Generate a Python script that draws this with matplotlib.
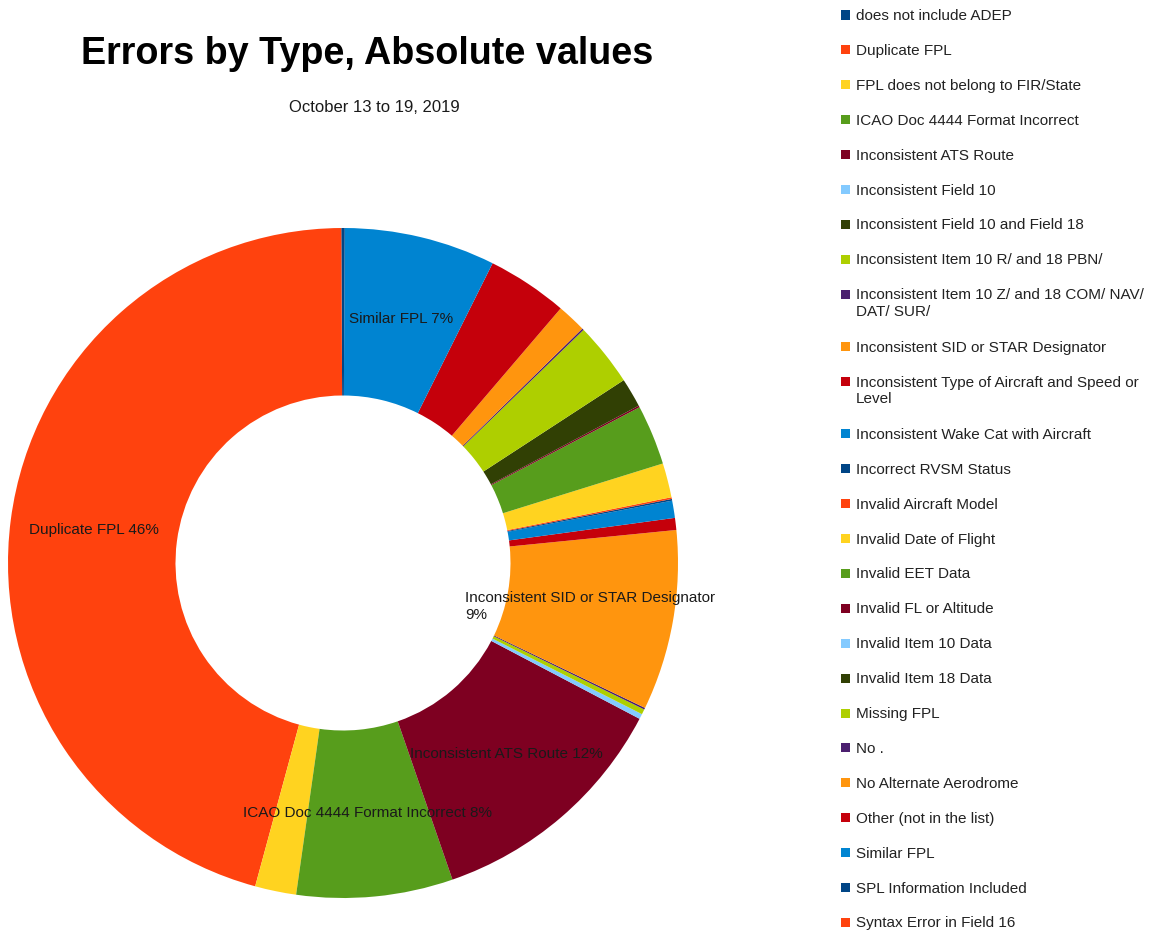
import textwrap

import matplotlib
matplotlib.use("Agg")
import matplotlib.pyplot as plt
import numpy as np
from matplotlib.patches import Rectangle

plt.rcParams["font.family"] = ["Liberation Sans", "DejaVu Sans"]

# Error categories and their weekly counts
categories = [
    "does not include ADEP",
    "Duplicate FPL",
    "FPL does not belong to FIR/State",
    "ICAO Doc 4444 Format Incorrect",
    "Inconsistent ATS Route",
    "Inconsistent Field 10",
    "Inconsistent Field 10 and Field 18",
    "Inconsistent Item 10 R/ and 18 PBN/",
    "Inconsistent Item 10 Z/ and 18 COM/ NAV/ DAT/ SUR/",
    "Inconsistent SID or STAR Designator",
    "Inconsistent Type of Aircraft and Speed or Level",
    "Inconsistent Wake Cat with Aircraft",
    "Incorrect RVSM Status",
    "Invalid Aircraft Model",
    "Invalid Date of Flight",
    "Invalid EET Data",
    "Invalid FL or Altitude",
    "Invalid Item 10 Data",
    "Invalid Item 18 Data",
    "Missing FPL",
    "No .",
    "No Alternate Aerodrome",
    "Other (not in the list)",
    "Similar FPL",
    "SPL Information Included",
    "Syntax Error in Field 16",
]
counts = [1, 552, 24, 91, 145, 3, 0, 3, 1, 105, 7, 10, 1,
          1, 20, 35, 1, 0, 17, 37, 1, 17, 47, 88, 1, 0]

title = "Errors by Type, Absolute values"
subtitle = "October 13 to 19, 2019"

palette = ["#004586", "#ff420e", "#ffd320", "#579d1c", "#7e0021", "#83caff",
           "#314004", "#aecf00", "#4b1f6f", "#ff950e", "#c5000b", "#0084d1"]
colors = [palette[i % len(palette)] for i in range(len(categories))]

W, H = 1160, 932
fig = plt.figure(figsize=(W / 100, H / 100), dpi=100)

# Donut placement (pixels): centre and outer radius
cx, cy, R = 343, 563, 335
ax = fig.add_axes([(cx - R) / W, (H - cy - R) / H, 2 * R / W, 2 * R / H])
wedges, _ = ax.pie(counts, colors=colors, startangle=90, counterclock=True,
                   radius=1.0, wedgeprops=dict(width=0.5, linewidth=0))
ax.set_xlim(-1, 1)
ax.set_ylim(-1, 1)
ax.set_aspect("equal")
ax.axis("off")

total = sum(counts)
for w, name, c in zip(wedges, categories, counts):
    pct = 100.0 * c / total
    if pct < 5:
        continue
    ang = np.deg2rad((w.theta1 + w.theta2) / 2)
    r = 0.75
    ax.text(r * np.cos(ang), r * np.sin(ang),
            textwrap.fill(f"{name} {pct:.0f}%", 36),
            ha="center", va="center", multialignment="left",
            fontsize=11, color="#1a1a1a", linespacing=1.25)

fig.text(367 / W, 1 - 54 / H, title, fontsize=27.2, fontweight="bold",
         ha="center", va="center", color="black")
fig.text(374 / W, 1 - 108 / H, subtitle, fontsize=12,
         ha="center", va="center", color="#1a1a1a")

# Legend on the right, one row per category
y = 15.0
row = 34.9
extra = 17.5
for name, col in zip(categories, colors):
    label = textwrap.fill(name, 42)
    nlines = label.count("\n") + 1
    fig.add_artist(Rectangle((841 / W, 1 - (y + 4.5) / H), 9 / W, 9 / H,
                             transform=fig.transFigure, facecolor=col,
                             edgecolor="none"))
    fig.text(856 / W, 1 - (y - 6) / H, label, fontsize=11, ha="left",
             va="top", color="#222222", linespacing=1.25)
    y += row + extra * (nlines - 1)

fig.savefig("out.png", dpi=100, facecolor="white")
